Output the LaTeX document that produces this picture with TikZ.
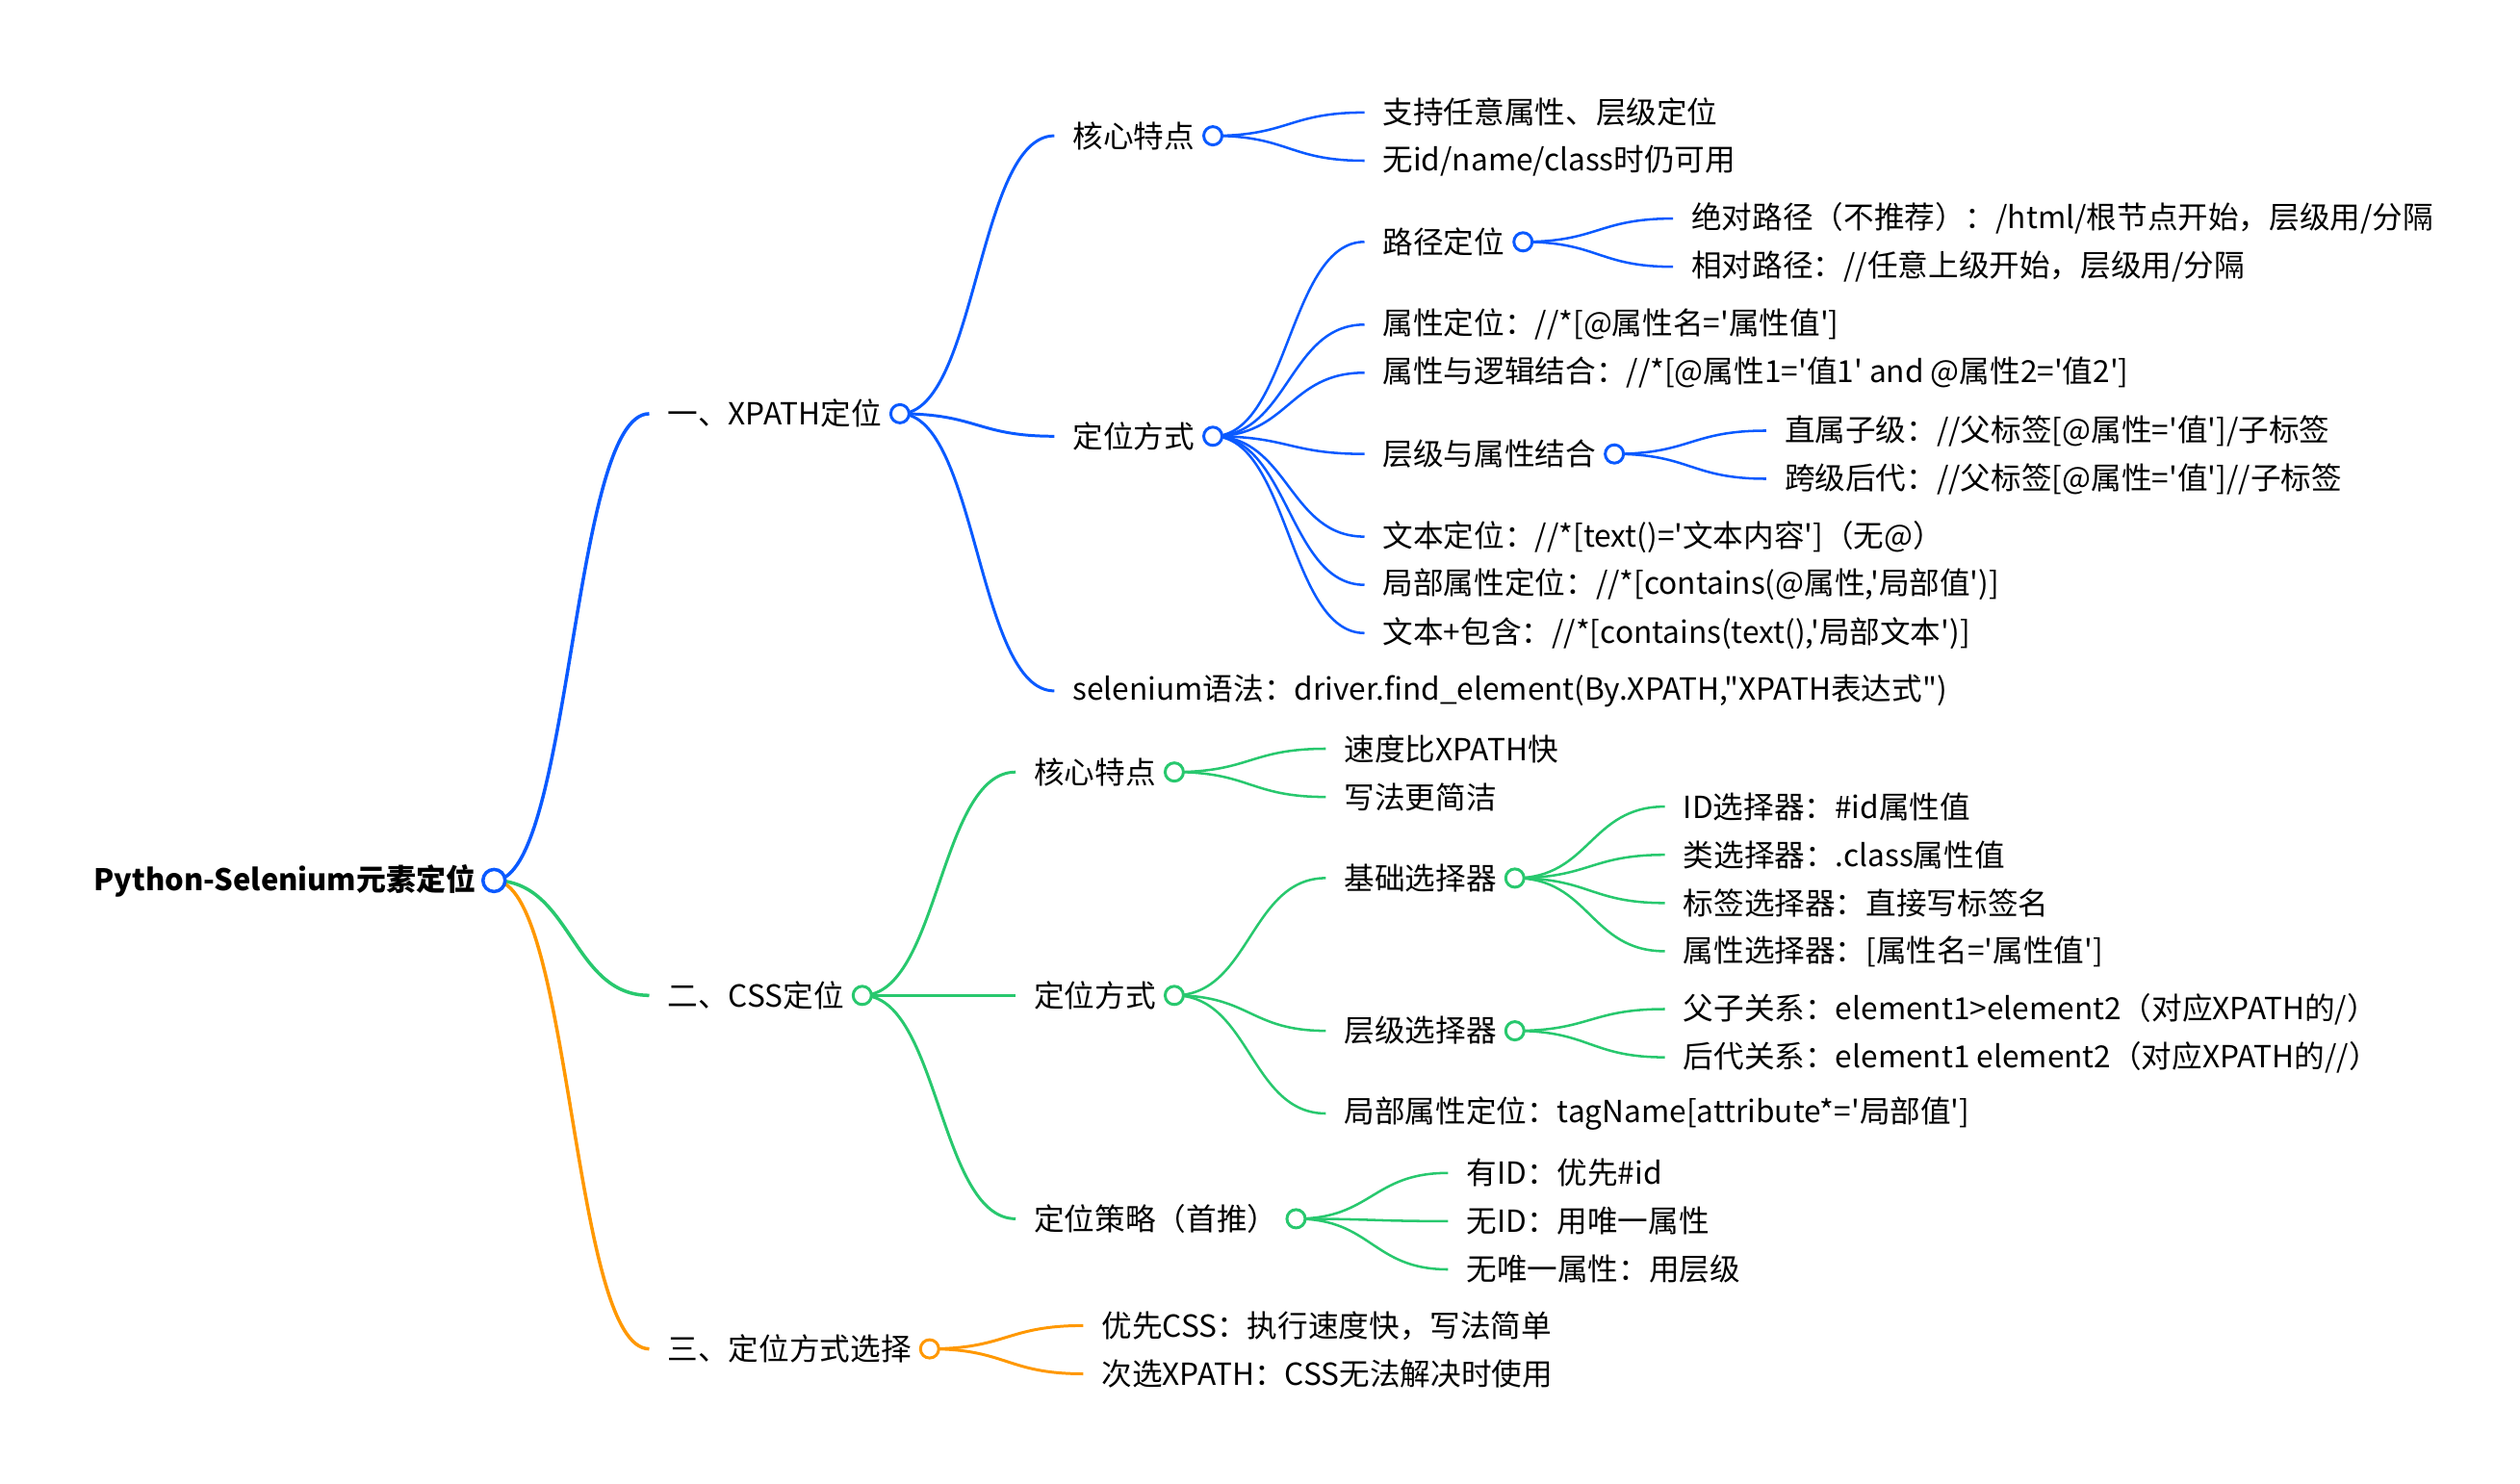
\documentclass[tikz,border=0pt]{standalone}
\usepackage{fontspec}
\setmainfont{Noto Sans CJK SC}[Ligatures=TeXOff]
\usepackage{tikz}
\usetikzlibrary{calc, backgrounds}
\definecolor{mapblue}{RGB}{10,90,255}
\definecolor{mapgreen}{RGB}{40,200,110}
\definecolor{maporange}{RGB}{255,152,0}
\tikzset{
  item/.style={anchor=west, inner xsep=0.184cm, inner ysep=0.04cm,
    text=black, font=\fontsize{9}{11}\selectfont},
  dot/.style={circle, draw=#1, fill=white, line width=0.85pt,
    minimum size=0.19cm, inner sep=0pt},
  link/.style={to path={let \p1=(\tikztostart), \p2=(\tikztotarget),
    \p3=($(\p1)!0.5!(\p2)$) in .. controls (\x3,\y1) and (\x3,\y2) .. (\p2)}},
}

\begin{document}
\begin{tikzpicture}[
  rootlink/.style={line width=1pt},
  midlink/.style={line width=0.85pt},
  leaflink/.style={line width=0.72pt},
]
\useasboundingbox (0,0) rectangle (26.18,-15.42);

\node[item, font=\fontsize{8.8}{11}\selectfont\bfseries] (rt) at (0.785,-9.149) {Python-Selenium元素定位};
\node[dot=mapblue, minimum size=0.23cm, line width=1pt] (rtc) at (rt.east) {};

\node[item] (xp)  at (6.745,-4.299)  {一、XPATH定位};
\node[dot=mapblue] (xpc) at (xp.east) {};
\node[item] (css) at (6.745,-10.343) {二、CSS定位};
\node[dot=mapgreen] (cssc) at (css.east) {};
\node[item] (sel) at (6.745,-14.016) {三、定位方式选择};
\node[dot=maporange] (selc) at (sel.east) {};

% XPATH
\node[item] (xp-kx)  at (10.953,-1.411) {核心特点};
\node[dot=mapblue] (xp-kxc) at (xp-kx.east) {};
\node[item] (xp-fs)  at (10.953,-4.533) {定位方式};
\node[dot=mapblue] (xp-fsc) at (xp-fs.east) {};
\node[item] (xp-syn) at (10.953,-7.179) {selenium语法：driver.find\_element(By.XPATH,"XPATH表达式")};

\node[item] (xp-kx1) at (14.175,-1.169) {支持任意属性、层级定位};
\node[item] (xp-kx2) at (14.175,-1.670) {无id/name/class时仍可用};

\node[item] (xp-lj) at (14.175,-2.513) {路径定位};
\node[dot=mapblue] (xp-ljc) at (xp-lj.east) {};
\node[item] (xp-sx) at (14.175,-3.373) {属性定位：//*[@属性名='属性值']};
\node[item] (xp-lg) at (14.175,-3.873) {属性与逻辑结合：//*[@属性1='值1' and @属性2='值2']};
\node[item] (xp-cj) at (14.175,-4.717) {层级与属性结合};
\node[dot=mapblue] (xp-cjc) at (xp-cj.east) {};
\node[item] (xp-wb) at (14.175,-5.576) {文本定位：//*[text()='文本内容']（无@）};
\node[item] (xp-jb) at (14.175,-6.077) {局部属性定位：//*[contains(@属性,'局部值')]};
\node[item] (xp-bh) at (14.175,-6.578) {文本+包含：//*[contains(text(),'局部文本')]};

\node[item] (xp-lj1) at (17.381,-2.271) {绝对路径（不推荐）：/html/根节点开始，层级用/分隔};
\node[item] (xp-lj2) at (17.381,-2.772) {相对路径：//任意上级开始，层级用/分隔};
\node[item] (xp-cj1) at (18.349,-4.475) {直属子级：//父标签[@属性='值']/子标签};
\node[item] (xp-cj2) at (18.349,-4.975) {跨级后代：//父标签[@属性='值']//子标签};

% CSS
\node[item] (css-kx) at (10.552,-8.022)  {核心特点};
\node[dot=mapgreen] (css-kxc) at (css-kx.east) {};
\node[item] (css-fs) at (10.552,-10.343) {定位方式};
\node[dot=mapgreen] (css-fsc) at (css-fs.east) {};
\node[item] (css-cl) at (10.552,-12.664) {定位策略（首推）};
\node[dot=mapgreen] (css-clc) at (css-cl.east) {};

\node[item] (css-kx1) at (13.774,-7.780) {速度比XPATH快};
\node[item] (css-kx2) at (13.774,-8.281) {写法更简洁};
\node[item] (css-jc)  at (13.774,-9.124) {基础选择器};
\node[dot=mapgreen] (css-jcc) at (css-jc.east) {};
\node[item] (css-cj)  at (13.774,-10.711) {层级选择器};
\node[dot=mapgreen] (css-cjc) at (css-cj.east) {};
\node[item] (css-jb)  at (13.774,-11.570) {局部属性定位：tagName[attribute*='局部值']};

\node[item] (css-jc1) at (17.297,-8.381)  {ID选择器：\#id属性值};
\node[item] (css-jc2) at (17.297,-8.882)  {类选择器：.class属性值};
\node[item] (css-jc3) at (17.297,-9.383)  {标签选择器：直接写标签名};
\node[item] (css-jc4) at (17.297,-9.884)  {属性选择器：[属性名='属性值']};
\node[item] (css-cj1) at (17.297,-10.485) {父子关系：element1>element2（对应XPATH的/）};
\node[item] (css-cj2) at (17.297,-10.986) {后代关系：element1 element2（对应XPATH的//）};

\node[item] (css-cl1) at (15.043,-12.188) {有ID：优先\#id};
\node[item] (css-cl2) at (15.043,-12.689) {无ID：用唯一属性};
\node[item] (css-cl3) at (15.043,-13.190) {无唯一属性：用层级};

% choice
\node[item] (sel1) at (11.253,-13.774) {优先CSS：执行速度快，写法简单};
\node[item] (sel2) at (11.253,-14.275) {次选XPATH：CSS无法解决时使用};

\begin{scope}[on background layer]
\draw[mapblue, rootlink]   (rtc.center) to[link] (xp.west);
\draw[mapgreen, rootlink]  (rtc.center) to[link] (css.west);
\draw[maporange, rootlink] (rtc.center) to[link] (sel.west);

\draw[mapblue, midlink] (xpc.center) to[link] (xp-kx.west);
\draw[mapblue, midlink] (xpc.center) to[link] (xp-fs.west);
\draw[mapblue, midlink] (xpc.center) to[link] (xp-syn.west);

\draw[mapblue, leaflink] (xp-kxc.center) to[link] (xp-kx1.west);
\draw[mapblue, leaflink] (xp-kxc.center) to[link] (xp-kx2.west);

\draw[mapblue, leaflink] (xp-fsc.center) to[link] (xp-lj.west);
\draw[mapblue, leaflink] (xp-fsc.center) to[link] (xp-sx.west);
\draw[mapblue, leaflink] (xp-fsc.center) to[link] (xp-lg.west);
\draw[mapblue, leaflink] (xp-fsc.center) to[link] (xp-cj.west);
\draw[mapblue, leaflink] (xp-fsc.center) to[link] (xp-wb.west);
\draw[mapblue, leaflink] (xp-fsc.center) to[link] (xp-jb.west);
\draw[mapblue, leaflink] (xp-fsc.center) to[link] (xp-bh.west);

\draw[mapblue, leaflink] (xp-ljc.center) to[link] (xp-lj1.west);
\draw[mapblue, leaflink] (xp-ljc.center) to[link] (xp-lj2.west);
\draw[mapblue, leaflink] (xp-cjc.center) to[link] (xp-cj1.west);
\draw[mapblue, leaflink] (xp-cjc.center) to[link] (xp-cj2.west);

\draw[mapgreen, midlink] (cssc.center) to[link] (css-kx.west);
\draw[mapgreen, midlink] (cssc.center) to[link] (css-fs.west);
\draw[mapgreen, midlink] (cssc.center) to[link] (css-cl.west);

\draw[mapgreen, leaflink] (css-kxc.center) to[link] (css-kx1.west);
\draw[mapgreen, leaflink] (css-kxc.center) to[link] (css-kx2.west);

\draw[mapgreen, leaflink] (css-fsc.center) to[link] (css-jc.west);
\draw[mapgreen, leaflink] (css-fsc.center) to[link] (css-cj.west);
\draw[mapgreen, leaflink] (css-fsc.center) to[link] (css-jb.west);

\draw[mapgreen, leaflink] (css-jcc.center) to[link] (css-jc1.west);
\draw[mapgreen, leaflink] (css-jcc.center) to[link] (css-jc2.west);
\draw[mapgreen, leaflink] (css-jcc.center) to[link] (css-jc3.west);
\draw[mapgreen, leaflink] (css-jcc.center) to[link] (css-jc4.west);
\draw[mapgreen, leaflink] (css-cjc.center) to[link] (css-cj1.west);
\draw[mapgreen, leaflink] (css-cjc.center) to[link] (css-cj2.west);

\draw[mapgreen, leaflink] (css-clc.center) to[link] (css-cl1.west);
\draw[mapgreen, leaflink] (css-clc.center) to[link] (css-cl2.west);
\draw[mapgreen, leaflink] (css-clc.center) to[link] (css-cl3.west);

\draw[maporange, midlink] (selc.center) to[link] (sel1.west);
\draw[maporange, midlink] (selc.center) to[link] (sel2.west);
\end{scope}

\end{tikzpicture}
\end{document}
